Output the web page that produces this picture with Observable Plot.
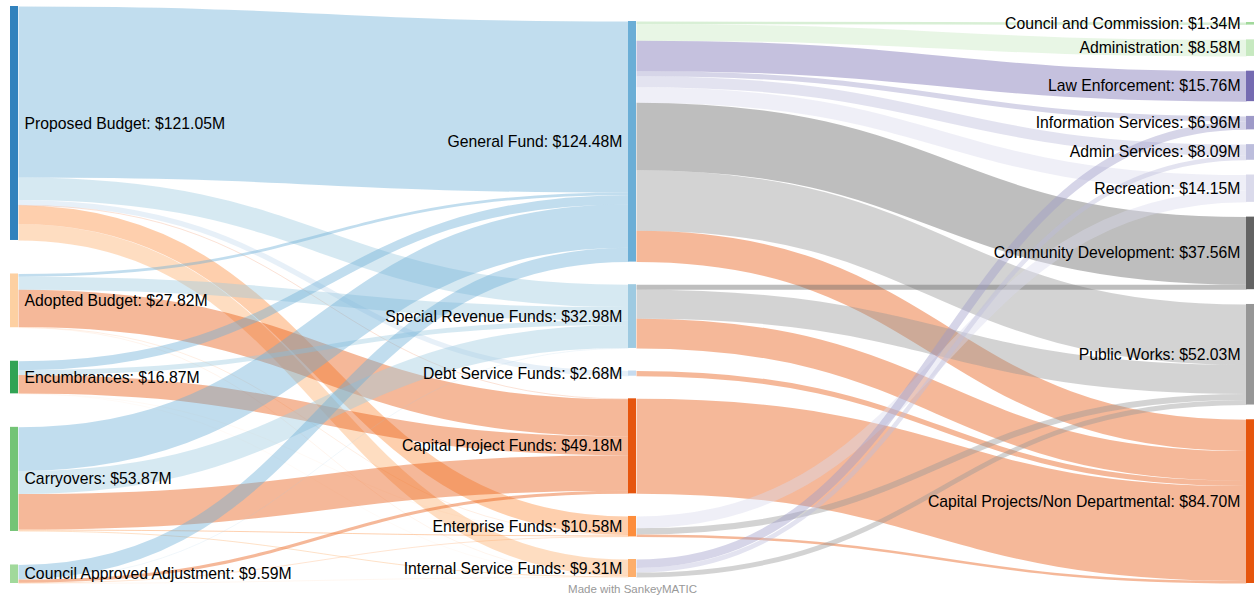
<!DOCTYPE html>
<html><head><meta charset="utf-8">
<script src="https://cdn.jsdelivr.net/npm/d3@7"></script>
<script src="https://cdn.jsdelivr.net/npm/@observablehq/plot@0.6"></script>
<style>
html,body{margin:0;padding:0;background:#fff;}
#chart svg{display:block;}
</style></head><body><div id="chart"></div>
<script>
// ---------------- Data ($M) ----------------
const sourceNames = ["Proposed Budget", "Adopted Budget", "Encumbrances", "Carryovers", "Council Approved Adjustment"];
const fundNames = ["General Fund", "Special Revenue Funds", "Debt Service Funds", "Capital Project Funds", "Enterprise Funds", "Internal Service Funds"];
const departmentNames = ["Council and Commission", "Administration", "Law Enforcement", "Information Services", "Admin Services", "Recreation", "Community Development", "Public Works", "Capital Projects/Non Departmental"];

// rows: sources, columns: funds (same order as fundNames)
const sourceToFund = [
  [88.50, 11.60, 2.68,  0.21, 9.56, 8.50],
  [ 1.40,  6.80, 0,    19.30, 0.17, 0.15],
  [ 4.60,  2.50, 0,     9.65, 0.06, 0.06],
  [22.60, 11.90, 0,    18.40, 0.50, 0.47],
  [ 7.38,  0.18, 0,     1.62, 0.29, 0.12]
];
// rows: funds, columns: departments (same order as departmentNames)
const fundToDepartment = [
  [1.34, 8.58, 15.76, 2.60, 5.70, 8.00, 35.00, 31.30, 16.20],
  [0, 0, 0, 0, 0, 0, 2.56, 15.00, 15.42],
  [0, 0, 0, 0, 0, 0, 0, 0, 2.68],
  [0, 0, 0, 0, 0, 0, 0, 0, 49.14],
  [0, 0, 0, 0, 0, 6.15, 0, 3.17, 1.26],
  [0, 0, 0, 4.36, 2.39, 0, 0, 2.56, 0]
];

// ---------------- Styles ----------------
const sourceColors = ["#3182bd", "#fdd0a2", "#31a354", "#74c476", "#a1d99b"];
const fundColors = ["#6baed6", "#9ecae1", "#c6dbef", "#e6550d", "#fd8d3c", "#fdae6b"];
const departmentColors = ["#a1d99b", "#c7e9c0", "#756bb1", "#9e9ac8", "#bcbddc", "#dadaeb", "#636363", "#969696", "#e6550d"];

const W = 1254, H = 601;
const M = {top: 6, right: 0, bottom: 18, left: 10};
const nodeWidth = 8, labelGap = 6, linkOpacity = 0.42;
const spacing = 0.2322;                          // share of height given to gaps in the densest column
const columnInsets = [[0, 0], [15, 6], [16, 0]]; // top / bottom inset of each column
const font = "'Liberation Sans', Arial, Helvetica, sans-serif";

// ---------------- Sankey layout ----------------
const innerW = W - M.left - M.right, innerH = H - M.top - M.bottom;
const names = [sourceNames, fundNames, departmentNames];
const palettes = [sourceColors, fundColors, departmentColors];
const nodes = [];
const columns = names.map((list, c) => list.map((name, i) => {
  const n = {name, col: c, color: palettes[c][i], inLinks: [], outLinks: [], inSum: 0, outSum: 0};
  nodes.push(n);
  return n;
}));
const links = [];
function addLinks(matrix, from, to) {
  matrix.forEach((row, i) => row.forEach((v, j) => {
    if (v > 0) {
      const l = {source: from[i], target: to[j], value: v};
      links.push(l);
      from[i].outLinks.push(l); to[j].inLinks.push(l);
      from[i].outSum += v; to[j].inSum += v;
    }
  }));
}
addLinks(sourceToFund, columns[0], columns[1]);
addLinks(fundToDepartment, columns[1], columns[2]);
nodes.forEach(n => n.value = Math.max(n.inSum, n.outSum));

const maxTotal = d3.max(columns, c => d3.sum(c, n => n.value));
const ky = innerH * (1 - spacing) / maxTotal;
const kx = (innerW - nodeWidth) / (columns.length - 1);

columns.forEach((col, c) => {
  const [t, b] = columnInsets[c];
  const total = d3.sum(col, n => n.value) * ky;
  const gap = col.length > 1 ? (innerH - t - b - total) / (col.length - 1) : 0;
  let y = t;
  col.forEach(n => {
    n.x0 = c * kx; n.x1 = n.x0 + nodeWidth;
    n.y0 = y; n.y1 = y + n.value * ky;
    y = n.y1 + gap;
  });
});
links.forEach(l => { l.width = l.value * ky; l.color = l.target.color; });
nodes.forEach(n => {
  n.outLinks.sort((a, b) => a.target.y0 - b.target.y0);
  n.inLinks.sort((a, b) => a.source.y0 - b.source.y0);
  let y = n.y0;
  n.outLinks.forEach(l => { l.y0 = y + l.width / 2; y += l.width; });
  y = n.y0;
  n.inLinks.forEach(l => { l.y1 = y + l.width / 2; y += l.width; });
});
const label = d => `${d.name}: $${d.value.toFixed(2)}M`;

// ---------------- Plot ----------------
const chart = Plot.plot({
  width: W, height: H,
  marginTop: M.top, marginRight: M.right, marginBottom: M.bottom, marginLeft: M.left,
  x: {domain: [0, innerW], axis: null},
  y: {domain: [0, innerH], range: [M.top, H - M.bottom], axis: null},
  color: {type: "identity"},
  style: {fontFamily: font, background: "#fff", overflow: "visible"},
  marks: [
    Plot.link(links, {
      x1: d => d.source.x1, y1: "y0", x2: d => d.target.x0, y2: "y1",
      stroke: "color", strokeOpacity: linkOpacity, strokeWidth: "width",
      curve: "bump-x"
    }),
    Plot.rect(nodes, {x1: "x0", x2: "x1", y1: "y0", y2: "y1", fill: "color"}),
    Plot.text(nodes.filter(d => d.col === 0), {
      x: d => d.x1, y: d => (d.y0 + d.y1) / 2, dx: labelGap, text: label,
      textAnchor: "start", fontSize: 15.75, fill: "#000"
    }),
    Plot.text(nodes.filter(d => d.col > 0), {
      x: d => d.x0, y: d => (d.y0 + d.y1) / 2, dx: -labelGap, text: label,
      textAnchor: "end", fontSize: 15.75, fill: "#000"
    }),
    Plot.text(["Made with SankeyMATIC"], {
      frameAnchor: "bottom", dy: 9, fill: "#999", fontSize: 11.5
    })
  ]
});
document.getElementById("chart").appendChild(chart);
</script>
</body></html>
